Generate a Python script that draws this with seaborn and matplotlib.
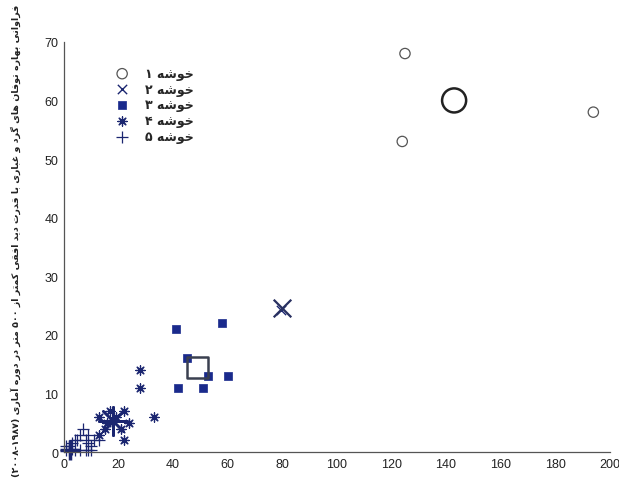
import matplotlib
matplotlib.use("Agg")

import matplotlib.pyplot as plt
import seaborn as sns

# --- data -------------------------------------------------------------------
c1_x = [125, 124, 194]
c1_y = [68, 53, 58]
c2_x = [79.5]
c2_y = [24.2]
c3_x = [41, 58, 45, 53, 60, 42, 51]
c3_y = [21, 22, 16, 13, 13, 11, 11]
c4_x = [28, 28, 33, 17, 22, 13, 24, 15, 21, 13, 22, 16, 19]
c4_y = [14, 11, 6, 7, 7, 6, 5, 4, 4, 3, 2, 5, 6]
c5_x = [7, 6, 9, 5, 8, 11, 13, 9, 3, 4, 1, 2, 4, 6, 8, 9, 10, 2, 1, 3, 10]
c5_y = [4, 3, 3, 2, 2, 2, 2, 1.5, 1.5, 2, 0.3, 0.3, 0.3, 0.3, 0.3, 0.3, 0.3, 1, 1, 0.5, 1]

cent_x = [143, 80, 49, 18, 2.2]
cent_y = [60, 24.6, 14.5, 5.3, 0.4]

legend_labels = ["خوشه ۱", "خوشه ۲", "خوشه ۳", "خوشه ۴", "خوشه ۵"]
ylabel_words = ["فراوانی", "بهاره", "توفان", "های", "گرد", "و", "غباری", "با",
                "قدرت", "دید", "افقی", "کمتر", "از", "۵۰۰", "متر", "در", "دوره", "آماری"]
ylabel_years = "(۲۰۰۸-۱۹۸۷)"

x_ticks = list(range(0, 201, 20))
y_ticks = list(range(0, 71, 10))

# --- minimal persian shaping (matplotlib has no bidi / joining) -------------
FORMS = {
    "ا": ("\uFE8D", "\uFE8E", None, None),
    "آ": ("\uFE81", "\uFE82", None, None),
    "ب": ("\uFE8F", "\uFE90", "\uFE91", "\uFE92"),
    "ت": ("\uFE95", "\uFE96", "\uFE97", "\uFE98"),
    "خ": ("\uFEA5", "\uFEA6", "\uFEA7", "\uFEA8"),
    "د": ("\uFEA9", "\uFEAA", None, None),
    "ر": ("\uFEAD", "\uFEAE", None, None),
    "ز": ("\uFEAF", "\uFEB0", None, None),
    "ش": ("\uFEB5", "\uFEB6", "\uFEB7", "\uFEB8"),
    "غ": ("\uFECD", "\uFECE", "\uFECF", "\uFED0"),
    "ف": ("\uFED1", "\uFED2", "\uFED3", "\uFED4"),
    "ق": ("\uFED5", "\uFED6", "\uFED7", "\uFED8"),
    "ک": ("\uFB8E", "\uFB8F", "\uFB90", "\uFB91"),
    "گ": ("\uFB92", "\uFB93", "\uFB94", "\uFB95"),
    "ل": ("\uFEDD", "\uFEDE", "\uFEDF", "\uFEE0"),
    "م": ("\uFEE1", "\uFEE2", "\uFEE3", "\uFEE4"),
    "ن": ("\uFEE5", "\uFEE6", "\uFEE7", "\uFEE8"),
    "ه": ("\uFEE9", "\uFEEA", "\uFEEB", "\uFEEC"),
    "و": ("\uFEED", "\uFEEE", None, None),
    "ی": ("\uFBFC", "\uFBFD", "\uFBFE", "\uFBFF"),
}


def shape_word(w):
    if not w or w[0] not in FORMS:
        return w
    out = []
    for i, ch in enumerate(w):
        f = FORMS[ch]
        prev = w[i - 1] if i > 0 else None
        nxt = w[i + 1] if i + 1 < len(w) else None
        jp = prev is not None and FORMS[prev][2] is not None
        jn = nxt is not None and f[2] is not None
        if jp and jn:
            g = f[3]
        elif jp:
            g = f[1]
        elif jn:
            g = f[2]
        else:
            g = f[0]
        out.append(g)
    return "".join(reversed(out))


def rtl(words):
    return " ".join(shape_word(w) for w in reversed(words))


# --- figure -----------------------------------------------------------------
sns.set_theme(style="white")
plt.rcParams["font.family"] = ["Liberation Sans", "DejaVu Sans"]

navy = "#1b2670"
fig = plt.figure(figsize=(6.19, 4.81), dpi=100)
ax = fig.add_axes([0.103, 0.058, 0.882, 0.853])

sns.scatterplot(x=c1_x, y=c1_y, ax=ax, marker="o", s=55, facecolor="none",
                edgecolor="#555555", linewidth=0.9, label=legend_labels[0])
sns.scatterplot(x=c2_x, y=c2_y, ax=ax, marker="x", s=45, color=navy,
                linewidth=1.0, label=legend_labels[1])
sns.scatterplot(x=c3_x, y=c3_y, ax=ax, marker="s", s=38, color="#1a2a8c",
                edgecolor="#1a2a8c", linewidth=0.5, label=legend_labels[2])
sns.scatterplot(x=c4_x, y=c4_y, ax=ax, marker=(8, 2, 0), s=45, color=navy,
                linewidth=0.9, label=legend_labels[3])
sns.scatterplot(x=c5_x, y=c5_y, ax=ax, marker="+", s=70, color=navy,
                linewidth=0.9, label=legend_labels[4], clip_on=False)

# cluster centres
cent_style = [
    dict(marker="o", s=300, facecolor="none", edgecolor="#222222", linewidth=1.8),
    dict(marker="x", s=160, color="#283060", linewidth=1.6),
    dict(marker="s", s=230, facecolor="none", edgecolor="#3a4050", linewidth=1.8),
    dict(marker=(8, 2, 0), s=420, color=navy, linewidth=1.8),
    dict(marker="+", s=200, color=navy, linewidth=2.5),
]
for cx, cy, st in zip(cent_x, cent_y, cent_style):
    sns.scatterplot(x=[cx], y=[cy], ax=ax, legend=False, clip_on=False, **st)

ax.set_xlim(0, 200)
ax.set_ylim(0, 70)
ax.set_xticks(x_ticks)
ax.set_yticks(y_ticks)
ax.tick_params(direction="in", length=4, width=0.8, labelsize=9,
               colors="#333333", labelcolor="#222222", pad=4)
sns.despine(ax=ax)
for sp in ("left", "bottom"):
    ax.spines[sp].set_color("#555555")
    ax.spines[sp].set_linewidth(0.9)

leg = ax.legend(loc="upper left", bbox_to_anchor=(0.068, 0.96), frameon=False,
                handletextpad=0.8, labelspacing=0.22, borderpad=0.2,
                prop={"family": "DejaVu Sans", "weight": "bold", "size": 9})
for t, lab in zip(leg.get_texts(), legend_labels):
    word, num = lab.split(" ")
    t.set_text(num + " " + shape_word(word))

fig.text(0.025, 0.5, ylabel_years + " " + rtl(ylabel_words), rotation=90,
         ha="center", va="center", fontsize=6.8, fontweight="bold",
         family="DejaVu Sans", color="#222222")

fig.savefig("out.png", dpi=100)
